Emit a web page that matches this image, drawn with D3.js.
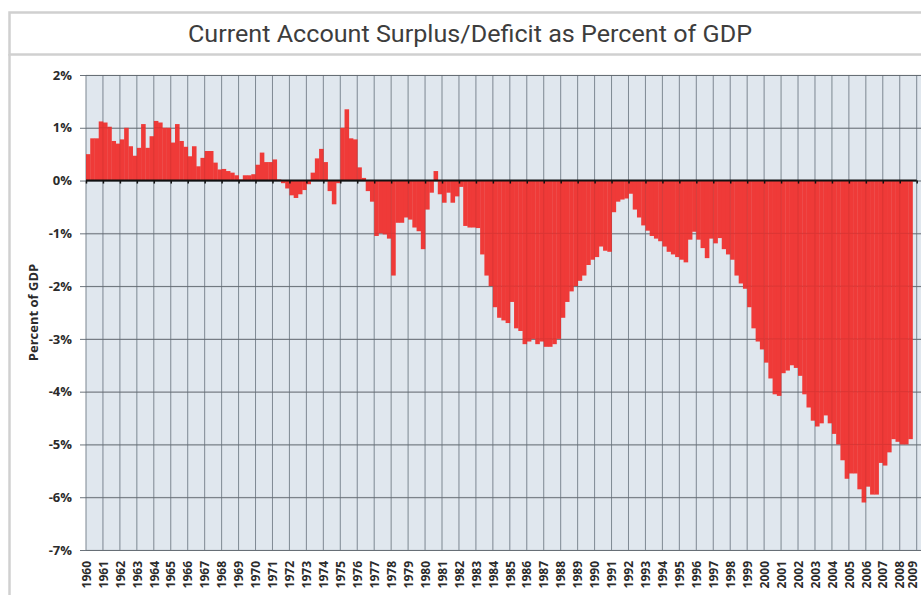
<!DOCTYPE html>
<html>
<head>
<meta charset="utf-8">
<script src="https://cdn.jsdelivr.net/npm/d3@7/dist/d3.min.js"></script>
<style>
  html, body { margin: 0; padding: 0; background: #fff; }
  svg { display: block; }
</style>
</head>
<body>
<svg id="chart" width="921" height="595"></svg>
<script>
// Year labels along the bottom axis (one gridline per year)
const yearLabels = ["1960","1961","1962","1963","1964","1965","1966","1967","1968","1969",
  "1970","1971","1972","1973","1974","1975","1976","1977","1978","1979",
  "1980","1981","1982","1983","1984","1985","1986","1987","1988","1989",
  "1990","1991","1992","1993","1994","1995","1996","1997","1998","1999",
  "2000","2001","2002","2003","2004","2005","2006","2007","2008","2009"];

// Percent tick labels on the value axis
const percentTicks = [2, 1, 0, -1, -2, -3, -4, -5, -6, -7];

// Quarterly current account balance, % of GDP, starting 1960 Q1
const balanceQ = [
  0.5, 0.8, 0.8, 1.12,       // 1960
  1.1, 1.02, 0.75, 0.7,      // 1961
  0.78, 1.0, 0.65, 0.47,     // 1962
  0.62, 1.07, 0.62, 0.84,    // 1963
  1.13, 1.1, 1.0, 1.0,       // 1964
  0.72, 1.07, 0.75, 0.64,    // 1965
  0.46, 0.65, 0.27, 0.43,    // 1966
  0.56, 0.56, 0.34, 0.21,    // 1967
  0.22, 0.18, 0.15, 0.1,     // 1968
  0.02, 0.1, 0.1, 0.12,      // 1969
  0.3, 0.53, 0.35, 0.35,     // 1970
  0.4, 0.02, -0.05, -0.15,   // 1971
  -0.28, -0.33, -0.26, -0.18,// 1972
  -0.07, 0.15, 0.42, 0.6,    // 1973
  0.35, -0.2, -0.45, -0.05,  // 1974
  1.0, 1.35, 0.8, 0.78,      // 1975
  0.25, 0.05, -0.2, -0.4,    // 1976
  -1.05, -1.0, -1.02, -1.1,  // 1977
  -1.8, -0.8, -0.8, -0.7,    // 1978
  -0.74, -0.89, -0.96, -1.3, // 1979
  -0.55, -0.23, 0.18, -0.26, // 1980
  -0.42, -0.23, -0.42, -0.3, // 1981
  -0.12, -0.86, -0.89, -0.89,// 1982
  -0.9, -1.4, -1.8, -2.0,    // 1983
  -2.4, -2.6, -2.65, -2.7,   // 1984
  -2.3, -2.8, -2.85, -3.1,   // 1985
  -3.05, -3.0, -3.1, -3.05,  // 1986
  -3.15, -3.15, -3.1, -3.0,  // 1987
  -2.6, -2.3, -2.1, -2.0,    // 1988
  -1.9, -1.8, -1.6, -1.5,    // 1989
  -1.45, -1.25, -1.33, -1.35,// 1990
  -0.6, -0.4, -0.36, -0.34,  // 1991
  -0.25, -0.55, -0.7, -0.85, // 1992
  -0.95, -1.05, -1.1, -1.15, // 1993
  -1.25, -1.35, -1.4, -1.45, // 1994
  -1.5, -1.55, -1.12, -0.97, // 1995
  -1.12, -1.28, -1.47, -1.1, // 1996
  -1.19, -1.09, -1.3, -1.4,  // 1997
  -1.5, -1.8, -1.95, -2.05,  // 1998
  -2.4, -2.8, -3.05, -3.2,   // 1999
  -3.45, -3.75, -4.05, -4.08,// 2000
  -3.65, -3.6, -3.5, -3.55,  // 2001
  -3.7, -4.05, -4.3, -4.55,  // 2002
  -4.66, -4.6, -4.45, -4.6,  // 2003
  -4.8, -5.0, -5.3, -5.65,   // 2004
  -5.55, -5.55, -5.85, -6.1, // 2005
  -5.8, -5.95, -5.95, -5.35, // 2006
  -5.4, -5.15, -4.9, -4.95,  // 2007
  -5.0, -5.0, -4.9           // 2008
];

const titleText = "Current Account Surplus/Deficit as Percent of GDP";
const yAxisTitle = "Percent of GDP";

const svg = d3.select("#chart");
const W = 921, H = 595;

// Plot geometry
const plotLeft = 86, plotRight = 921, plotTop = 75, plotBottom = 550;
const firstYear = +yearLabels[0], lastYear = +yearLabels[yearLabels.length - 1];

const x = d3.scaleLinear().domain([firstYear, lastYear]).range([86, 916.7]);
const y = d3.scaleLinear().domain([-7, 2]).range([plotBottom, plotTop]);

const labelFont = "'Open Sans', Lato, sans-serif";

// Title box and panel frame
svg.append("rect")
  .attr("x", 9.5).attr("y", 12.5).attr("width", W).attr("height", 42)
  .attr("fill", "#fff").attr("stroke", "#d0d0d0").attr("stroke-width", 2.5);
svg.append("line")
  .attr("x1", 9.5).attr("x2", 9.5).attr("y1", 54).attr("y2", H)
  .attr("stroke", "#d0d0d0").attr("stroke-width", 2.5);

svg.append("text")
  .attr("x", 470).attr("y", 42)
  .attr("text-anchor", "middle")
  .attr("font-family", "Roboto, 'Noto Sans', sans-serif")
  .attr("font-size", 23.5)
  .attr("textLength", 564)
  .attr("lengthAdjust", "spacingAndGlyphs")
  .attr("fill", "#3d3d3d")
  .text(titleText);

// Plot background
svg.append("rect")
  .attr("x", plotLeft).attr("y", plotTop)
  .attr("width", plotRight - plotLeft).attr("height", plotBottom - plotTop)
  .attr("fill", "#e0e7ee");

const yearVals = yearLabels.map(d => +d);

// Vertical gridlines (under the bars)
svg.append("g").selectAll("line").data(yearVals).join("line")
  .attr("x1", d => x(d)).attr("x2", d => x(d))
  .attr("y1", plotTop).attr("y2", plotBottom)
  .attr("stroke", "#8c97a2").attr("stroke-width", 1);

// Value axis with full-width horizontal gridlines
const yAxis = d3.axisLeft(y)
  .tickValues(percentTicks)
  .tickFormat(d => d + "%")
  .tickSizeInner(-(plotRight - plotLeft))
  .tickSizeOuter(0);
const yg = svg.append("g")
  .attr("transform", `translate(${plotLeft},0)`)
  .call(yAxis);
yg.select(".domain").remove();
yg.selectAll(".tick line")
  .attr("x1", -6)
  .attr("stroke", "#6c747c").attr("stroke-width", 1);
yg.selectAll(".tick text")
  .attr("x", -14)
  .attr("font-family", labelFont)
  .attr("font-weight", "bold")
  .attr("font-size", 13)
  .attr("fill", "#2b2b2b");

// Quarterly bars
const qw = x(firstYear + 0.25) - x(firstYear);
svg.append("g").selectAll("rect").data(balanceQ).join("rect")
  .attr("x", (d, i) => x(firstYear + i / 4))
  .attr("width", qw + 0.35)
  .attr("y", d => y(Math.max(0, d)))
  .attr("height", d => Math.abs(y(d) - y(0)))
  .attr("fill", "#ef3a38");

// Faint gridlines showing through the bars
const over = svg.append("g").attr("opacity", 0.08);
over.selectAll("line.v").data(yearVals).join("line")
  .attr("class", "v")
  .attr("x1", d => x(d)).attr("x2", d => x(d))
  .attr("y1", plotTop).attr("y2", plotBottom)
  .attr("stroke", "#000");
over.selectAll("line.h").data(percentTicks).join("line")
  .attr("class", "h")
  .attr("x1", plotLeft).attr("x2", plotRight)
  .attr("y1", d => y(d)).attr("y2", d => y(d))
  .attr("stroke", "#000");

// Zero line with small year ticks
const zeroAxis = d3.axisBottom(x)
  .tickValues(yearVals)
  .tickSizeInner(3)
  .tickSizeOuter(0)
  .tickFormat("");
const zg = svg.append("g")
  .attr("transform", `translate(0,${y(0)})`)
  .call(zeroAxis);
zg.select(".domain").remove();
zg.selectAll(".tick line").attr("stroke", "#111").attr("stroke-width", 1.5);
svg.append("line")
  .attr("x1", plotLeft).attr("x2", x(lastYear))
  .attr("y1", y(0)).attr("y2", y(0))
  .attr("stroke", "#111").attr("stroke-width", 2);

// Year labels, rotated; the last one is nudged in from the right edge
const xAxis = d3.axisBottom(x)
  .tickValues(yearVals)
  .tickFormat(d => String(d))
  .tickSize(0);
const xg = svg.append("g")
  .attr("transform", `translate(0,${plotBottom})`)
  .call(xAxis);
xg.select(".domain").remove();
xg.selectAll(".tick text")
  .attr("transform", "rotate(-90)")
  .attr("text-anchor", "end")
  .attr("x", -11)
  .attr("y", (d, i, n) => i === n.length - 1 ? -4 : 0)
  .attr("dy", "0.35em")
  .attr("font-family", labelFont)
  .attr("font-weight", "bold")
  .attr("font-size", 12)
  .attr("fill", "#2b2b2b");

// Axis title
svg.append("text")
  .attr("transform", `translate(33,${y(-2.5)}) rotate(-90)`)
  .attr("text-anchor", "middle")
  .attr("dy", "0.35em")
  .attr("font-family", labelFont)
  .attr("font-weight", "bold")
  .attr("font-size", 13)
  .attr("fill", "#2b2b2b")
  .text(yAxisTitle);
</script>
</body>
</html>
